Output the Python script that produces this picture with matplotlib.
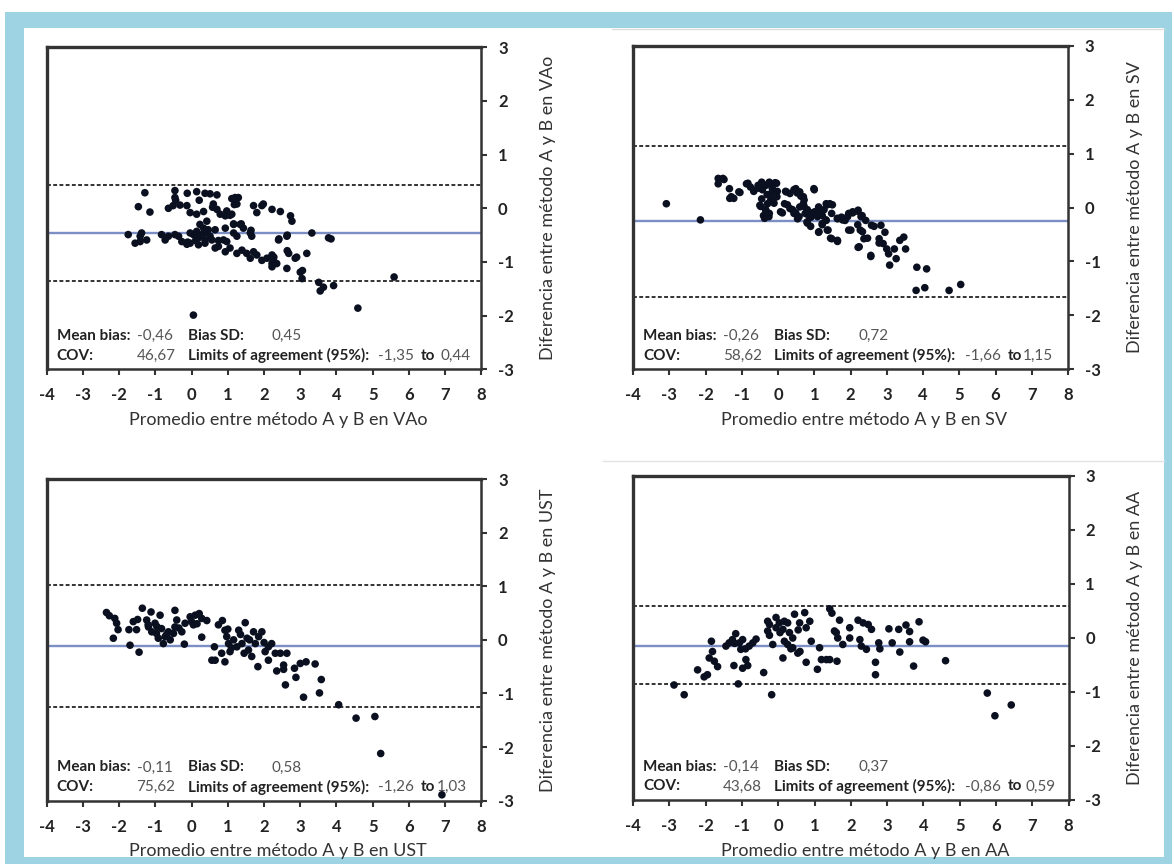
import numpy as np
import matplotlib
matplotlib.use("Agg")
import matplotlib.pyplot as plt
from matplotlib.patches import Rectangle
from matplotlib.lines import Line2D

plt.rcParams['font.family'] = ['Lato', 'DejaVu Sans']
plt.rcParams['axes.unicode_minus'] = False

# Bland-Altman points (mean, difference)
vao_pts = [
    (-0.46, 0.33), (-0.46, 0.20), (-0.12, 0.28), (0.14, 0.31), (0.37, 0.28), (0.51, 0.27),
    (0.70, 0.25), (-1.29, 0.29), (-1.47, 0.03), (-1.15, -0.07), (-0.64, 0.0), (-0.51, 0.05),
    (-0.13, 0.05), (-0.04, -0.08), (0.14, -0.11), (0.33, -0.06), (0.60, 0.08), (0.70, -0.02),
    (0.79, -0.11), (0.97, -0.05), (1.11, -0.11), (0.93, -0.14), (1.20, 0.20), (1.29, 0.20),
    (1.25, 0.08), (1.71, 0.05), (1.80, -0.08), (1.94, 0.05), (1.98, 0.08), (2.22, -0.02),
    (2.45, -0.06), (2.73, -0.14), (2.77, -0.24),
    (0.23, -0.30), (0.33, -0.37), (0.42, -0.24), (0.46, -0.40), (0.37, -0.46), (0.28, -0.49),
    (0.14, -0.43), (0.05, -0.49), (-0.04, -0.46), (0.51, -0.52), (0.65, -0.40), (0.56, -0.59),
    (0.37, -0.59), (0.19, -0.55), (0.93, -0.37), (1.16, -0.30), (1.34, -0.30), (1.43, -0.37),
    (1.16, -0.46), (1.25, -0.52), (1.62, -0.46), (1.66, -0.52), (-1.75, -0.49), (-1.38, -0.46),
    (-1.42, -0.52), (-1.56, -0.65), (-1.42, -0.62), (-1.24, -0.59), (-0.83, -0.49), (-0.73, -0.59),
    (-0.64, -0.52), (-0.46, -0.49), (-0.36, -0.52), (-0.27, -0.62), (-0.13, -0.67), (-0.04, -0.65),
    (0.19, -0.68), (0.37, -0.65), (0.65, -0.74), (0.74, -0.71), (0.88, -0.59), (0.97, -0.62),
    (0.93, -0.81), (1.06, -0.74), (1.25, -0.84), (1.39, -0.78), (1.52, -0.84), (1.62, -0.93),
    (1.71, -0.81), (1.80, -0.87), (1.94, -0.97), (2.08, -0.93), (2.22, -0.87), (2.22, -1.09),
    (2.26, -0.98), (2.35, -1.03), (2.63, -1.12), (2.68, -0.84), (2.86, -0.93), (3.18, -0.84),
    (2.40, -0.59), (2.63, -0.52), (3.32, -0.46), (3.78, -0.55), (3.00, -1.19), (3.05, -1.31),
    (3.51, -1.38), (3.55, -1.54), (3.64, -1.47), (3.92, -1.44),
    (5.59, -1.28), (4.59, -1.86), (0.05, -1.99),
    (-0.32, 0.06), (0.21, 0.15), (1.11, 0.18), (1.18, 0.07), (-0.44, 0.15), (0.58, 0.02),
    (1.06, -0.13), (1.16, -0.29), (1.37, -0.29), (0.11, -0.60), (-0.11, -0.63), (0.74, -0.60),
    (1.64, -0.41), (2.41, -0.57), (2.64, -0.50), (2.64, -0.79), (2.90, -0.91), (2.22, -1.03),
    (2.27, -0.91), (3.06, -1.16), (3.85, -0.57),
]

sv_pts = [
    (-3.08, 0.07), (-2.14, -0.23), (-1.65, 0.54), (-1.52, 0.54), (-1.65, 0.44), (-1.34, 0.35),
    (-1.29, 0.20), (-1.08, 0.29), (-0.87, 0.44), (-0.76, 0.38), (-0.66, 0.32), (-0.55, 0.41),
    (-0.45, 0.47), (-0.34, 0.41), (-0.24, 0.47), (-0.08, 0.46), (-0.50, 0.04), (-0.45, 0.16),
    (-0.34, -0.05), (-0.40, -0.15), (-0.24, -0.11), (-0.29, 0.07), (-0.14, 0.13), (-0.03, 0.20),
    (-0.19, 0.26), (0.07, -0.08), (0.23, 0.29), (0.33, 0.26), (0.49, 0.35), (0.60, 0.29),
    (0.70, 0.20), (0.99, 0.35), (0.18, 0.07), (0.33, -0.02), (0.44, -0.11), (0.54, -0.21),
    (0.60, 0.01), (0.70, 0.07), (0.75, -0.11), (0.80, -0.27), (0.91, -0.18), (1.01, -0.08),
    (1.12, 0.01), (1.22, -0.15), (1.33, 0.07), (1.43, 0.07), (1.33, -0.24), (1.38, -0.42),
    (1.12, -0.46), (1.22, -0.30), (1.48, -0.58), (1.64, -0.61), (1.48, -0.11), (1.64, -0.21),
    (1.75, -0.18), (1.85, -0.24), (1.95, -0.11), (2.06, -0.08), (2.21, -0.05), (2.32, -0.15),
    (2.42, -0.24), (1.95, -0.42), (2.27, -0.42), (2.37, -0.58), (2.21, -0.74), (2.58, -0.33),
    (2.56, -0.89), (2.84, -0.33), (2.95, -0.46), (2.79, -0.58), (2.90, -0.67), (3.00, -0.77),
    (3.05, -0.86), (3.21, -0.77), (3.26, -0.95), (3.36, -0.61), (3.47, -0.55), (3.52, -0.77),
    (3.08, -1.07), (3.83, -1.11), (4.10, -1.14), (3.81, -1.54), (4.05, -1.49), (4.72, -1.54),
    (5.04, -1.43),
    (-1.49, 0.52), (-1.33, 0.17), (-1.22, 0.17), (-1.05, 0.28), (-0.83, 0.45), (-0.67, 0.30),
    (-0.53, 0.36), (-0.43, 0.33), (-0.25, 0.45), (-0.16, 0.36), (-0.04, 0.45), (-0.02, 0.30),
    (-0.30, 0.24), (-0.20, 0.14), (-0.11, 0.08), (-0.48, 0.02), (-0.34, -0.04), (-0.25, -0.17),
    (-0.37, -0.20), (0.12, -0.10), (0.21, 0.30), (0.44, 0.33), (0.53, 0.27), (0.63, 0.21),
    (0.72, 0.14), (1.00, 0.33), (0.26, 0.05), (0.40, -0.04), (0.49, -0.10), (0.58, -0.17),
    (0.72, 0.02), (0.81, -0.04), (0.86, -0.17), (0.95, -0.10), (0.81, -0.29), (0.90, -0.35),
    (1.09, -0.17), (1.18, -0.10), (1.27, -0.04), (1.36, 0.05), (1.50, 0.05), (1.32, -0.23),
    (1.22, -0.32), (1.13, -0.45), (1.36, -0.42), (1.45, -0.57), (1.64, -0.63), (1.64, -0.20),
    (1.78, -0.23), (1.92, -0.17), (2.06, -0.10), (2.20, -0.07), (2.29, -0.17), (2.01, -0.42),
    (2.20, -0.32), (2.33, -0.45), (2.24, -0.73), (2.47, -0.57), (2.56, -0.91), (2.65, -0.35),
    (2.79, -0.66),
]

ust_pts = [
    (-2.35, 0.51), (-2.27, 0.45), (-2.12, 0.40), (-2.07, 0.31), (-2.03, 0.19), (-2.16, 0.03),
    (-1.70, -0.10), (-1.45, -0.23), (-1.73, 0.19), (-1.61, 0.34), (-1.49, 0.38), (-1.52, 0.19),
    (-1.36, 0.59), (-1.24, 0.37), (-1.12, 0.52), (-1.19, 0.24), (-1.10, 0.15), (-1.01, 0.31),
    (-0.87, 0.46), (-0.97, 0.12), (-0.92, 0.03), (-0.83, 0.21), (-0.78, -0.07), (-0.73, 0.06),
    (-0.64, 0.15), (-0.59, 0.0), (-0.50, 0.12), (-0.46, 0.55), (-0.41, 0.37), (-0.46, 0.24),
    (-0.27, 0.15), (-0.20, -0.08), (-0.18, 0.31), (-0.04, 0.43), (0.05, 0.28), (0.10, 0.46),
    (0.21, 0.49), (0.28, 0.40), (0.42, 0.36), (0.28, 0.05), (0.56, -0.38), (0.65, -0.38),
    (0.63, -0.13), (0.74, 0.28), (0.85, 0.36), (0.92, 0.18), (0.97, 0.06), (1.02, -0.07),
    (0.83, -0.25), (0.92, -0.41), (1.06, -0.22), (1.16, 0.0), (1.30, 0.18), (1.48, 0.32),
    (1.25, -0.13), (1.39, -0.07), (1.53, 0.03), (1.57, -0.19), (1.71, 0.15), (1.76, -0.07),
    (1.85, 0.06), (1.94, 0.15), (1.66, -0.31), (1.83, -0.50), (2.03, -0.22), (2.12, -0.13),
    (2.21, -0.07), (2.12, -0.38), (2.31, -0.25), (2.45, -0.25), (2.35, -0.58), (2.54, -0.47),
    (2.54, -0.55), (2.63, -0.25), (2.59, -0.84), (2.84, -0.53), (2.88, -0.70), (3.00, -0.44),
    (3.16, -0.41), (3.41, -0.45), (3.58, -0.74), (3.09, -1.07), (3.53, -0.99),
    (-1.20, 0.28), (-0.96, 0.25), (-0.69, 0.10), (-0.35, 0.22), (0.00, 0.34), (0.15, 0.30),
    (1.00, 0.20), (1.10, -0.15), (1.35, 0.10), (1.45, -0.25), (1.60, 0.00), (2.00, -0.05),
    (4.06, -1.21), (4.54, -1.46), (5.06, -1.43), (5.22, -2.12), (6.91, -2.89),
]

aa_pts = [
    (-2.87, -0.87), (-2.59, -1.05), (-2.22, -0.59), (-2.04, -0.72), (-1.95, -0.68), (-1.90, -0.37),
    (-1.84, -0.06), (-1.81, -0.25), (-1.76, -0.43), (-1.67, -0.53), (-1.44, -0.15), (-1.35, -0.09),
    (-1.26, -0.03), (-1.17, 0.08), (-1.22, -0.51), (-1.10, -0.85), (-1.07, -0.09), (-1.03, -0.21),
    (-0.98, -0.03), (-0.98, -0.56), (-0.89, -0.40), (-0.84, -0.51), (-0.80, -0.15), (-0.70, -0.09),
    (-0.61, -0.02), (-0.40, -0.64), (-0.29, 0.31), (-0.29, 0.13), (-0.24, 0.25), (-0.18, -1.05),
    (-0.15, -0.12), (-0.06, 0.38), (-0.06, 0.19), (0.03, 0.28), (0.13, 0.16), (0.13, -0.37),
    (0.17, 0.31), (0.26, 0.28), (0.17, -0.06), (0.26, -0.12), (0.31, 0.10), (0.40, -0.18),
    (0.45, 0.44), (0.40, 0.0), (0.54, -0.28), (0.59, 0.28), (0.73, 0.47), (0.77, 0.19),
    (0.77, -0.45), (0.87, 0.31), (0.91, -0.06), (1.08, -0.58), (1.14, -0.18), (1.19, -0.40),
    (1.33, -0.40), (1.42, -0.40), (1.42, 0.54), (1.48, 0.46), (1.55, 0.13), (1.62, -0.43),
    (1.64, 0.0), (1.69, 0.33), (1.78, -0.12), (1.97, 0.19), (1.97, 0.0), (2.20, 0.33),
    (2.25, -0.03), (2.34, 0.28), (2.29, -0.15), (2.48, 0.25), (2.43, -0.21), (2.57, 0.16),
    (2.68, -0.45), (2.68, -0.68), (2.77, -0.09), (2.80, -0.20), (3.05, 0.17), (3.14, -0.09),
    (3.32, 0.16), (3.35, -0.26),
    (-0.24, 0.05), (0.05, 0.10), (0.35, -0.20), (0.55, 0.15), (0.60, -0.25), (1.60, 0.10),
    (-1.20, -0.10), (-0.90, -0.20),
    (3.52, 0.24), (3.62, 0.12), (3.62, -0.07), (3.73, -0.52), (3.88, 0.30), (3.99, -0.04),
    (4.06, -0.07), (4.61, -0.42), (5.76, -1.02), (5.97, -1.44), (6.42, -1.24),
]

names = ['VAo', 'SV', 'UST', 'AA']
mean_bias = [-0.46, -0.26, -0.11, -0.14]
bias_sd = [0.45, 0.72, 0.58, 0.37]
cov = [46.67, 58.62, 75.62, 43.68]
loa_low = [-1.35, -1.66, -1.26, -0.86]
loa_high = [0.44, 1.15, 1.03, 0.59]
all_pts = [vao_pts, sv_pts, ust_pts, aa_pts]


def fmt(v):
    return f"{v:.2f}".replace('.', ',')


W, H = 1174, 864
fig = plt.figure(figsize=(W / 100, H / 100), dpi=100)
fig.patch.set_facecolor('white')

# light blue frame around the figure
blue = '#9dd3e2'
fig.patches.append(Rectangle((5 / W, 0), 1167 / W, 852 / H, transform=fig.transFigure,
                             facecolor=blue, edgecolor='none', zorder=-10))
fig.patches.append(Rectangle((24 / W, 7 / H), 1140 / W, 829 / H, transform=fig.transFigure,
                             facecolor='white', edgecolor='none', zorder=-9))
fig.lines.append(Line2D([612 / W, 1164 / W], [1 - 29 / H, 1 - 29 / H], transform=fig.transFigure,
                        color='#dddddd', lw=1))
fig.lines.append(Line2D([603 / W, 1164 / W], [1 - 461 / H, 1 - 461 / H], transform=fig.transFigure,
                        color='#e2e2e2', lw=1))

positions = [
    [46.7 / W, 1 - 369.3 / H, 434.7 / W, 322 / H],
    [633 / W, 1 - 369 / H, 435 / W, 323 / H],
    [46.7 / W, 1 - 800.7 / H, 434.7 / W, 321.7 / H],
    [633 / W, 1 - 800 / H, 435.6 / W, 324 / H],
]
hi_x = [6.86, 6.74, 6.78, 6.80]

for i in range(4):
    ax = fig.add_axes(positions[i])
    pts = np.array(all_pts[i])
    ax.set_xlim(-4, 8)
    ax.set_ylim(-3, 3)

    ax.axhline(mean_bias[i], color='#7b8fc4', lw=1.7, zorder=2)
    ax.axhline(loa_low[i], color='#333333', lw=1.4, ls=(0, (2, 1.2)), zorder=2)
    ax.axhline(loa_high[i], color='#333333', lw=1.4, ls=(0, (2, 1.2)), zorder=2)
    ax.scatter(pts[:, 0], pts[:, 1], s=30, color='#0b1020', edgecolors='none', zorder=3)

    ax.set_xticks(range(-4, 9))
    ax.set_yticks(range(-3, 4))
    ax.yaxis.tick_right()
    ax.tick_params(axis='x', direction='out', length=4, width=1.5, pad=9,
                   labelsize=12, colors='#333333', labelcolor='#222222')
    ax.tick_params(axis='y', direction='out', length=4, width=1.5, pad=8,
                   labelsize=12, colors='#333333', labelcolor='#222222')
    for lbl in ax.get_xticklabels() + ax.get_yticklabels():
        lbl.set_fontweight('bold')
    for sp in ax.spines.values():
        sp.set_color('#333333')
        sp.set_linewidth(1.8)
    ax.spines['left'].set_linewidth(2.4)
    ax.spines['top'].set_linewidth(2.4)

    ax.set_xlabel(f'Promedio entre método A y B en {names[i]}', fontsize=13, color='#333333')
    ax.xaxis.set_label_coords(0.532, -0.133)
    ax.yaxis.set_label_position('right')
    ax.set_ylabel(f'Diferencia entre método A y B en {names[i]}', fontsize=13, color='#333333')
    ax.yaxis.set_label_coords(1.135, 0.5)

    # statistics box text
    lab = dict(fontsize=11, color='#222222', va='center', ha='left', fontweight='bold')
    val = dict(fontsize=11, color='#555555', va='center', ha='left')
    r1, r2 = -2.38, -2.75
    ax.text(-3.72, r1, 'Mean bias:', **lab)
    ax.text(-1.51, r1, fmt(mean_bias[i]), **val)
    ax.text(-0.11, r1, 'Bias SD:', **lab)
    ax.text(2.21, r1, fmt(bias_sd[i]), **val)
    ax.text(-3.72, r2, 'COV:', **lab)
    ax.text(-0.45, r2, fmt(cov[i]), fontsize=11, color='#555555', va='center', ha='right')
    ax.text(-0.11, r2, 'Limits of agreement (95%):', **lab)
    ax.text(5.15, r2, fmt(loa_low[i]), **val)
    ax.text(6.33, r2, 'to', **lab)
    ax.text(hi_x[i], r2, fmt(loa_high[i]), **val)

fig.savefig('out.png', dpi=100)
